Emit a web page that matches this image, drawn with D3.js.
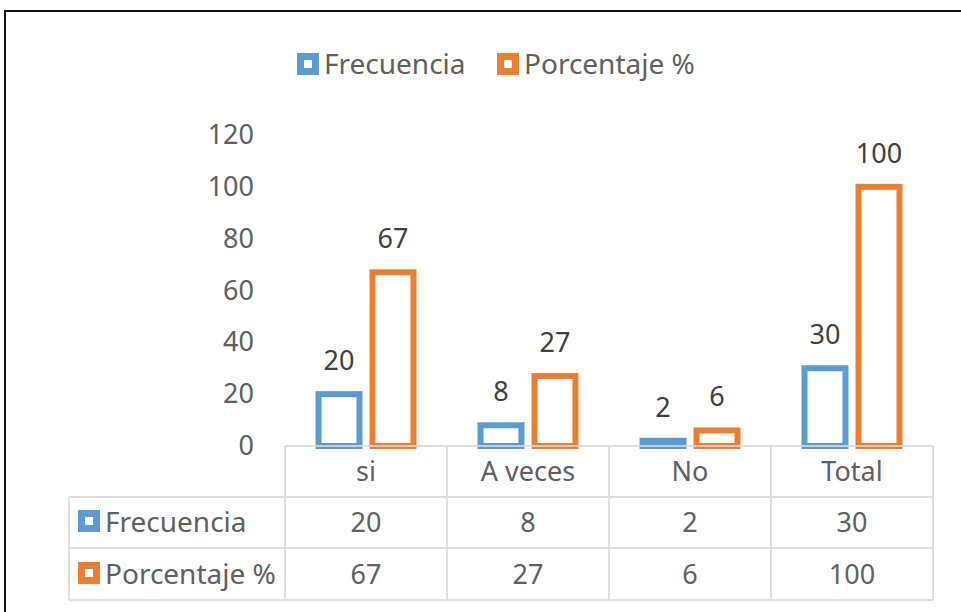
<!DOCTYPE html>
<html>
<head>
<meta charset="utf-8">
<script src="https://cdn.jsdelivr.net/npm/d3@7"></script>
<style>
  body { margin: 0; background: #fff; }
  svg text { font-family: "Noto Sans", sans-serif; fill: #606060; }
</style>
</head>
<body>
<svg id="chart" width="961" height="612"></svg>
<script>
const categories = ['si', 'A veces', 'No', 'Total'];
const seriesNames = ['Frecuencia', 'Porcentaje %'];
const frecuencia = [20, 8, 2, 30];
const porcentaje = [67, 27, 6, 100];
const yTicks = [0, 20, 40, 60, 80, 100, 120];

const colors = d3.scaleOrdinal()
	.domain(seriesNames)
	.range(['#5B9BD5', '#ED7D31']);

const svg = d3.select('#chart');

// outer frame (cut off at right/bottom like the screenshot)
svg.append('rect')
	.attr('x', 5).attr('y', 11)
	.attr('width', 1000).attr('height', 700)
	.attr('fill', 'none')
	.attr('stroke', '#111')
	.attr('stroke-width', 2);

const x0 = d3.scaleBand()
	.domain(categories)
	.range([285, 933]);

const x1 = d3.scaleBand()
	.domain(seriesNames)
	.range([0, x0.bandwidth()])
	.paddingInner(0.13)
	.paddingOuter(0.565);

const y = d3.scaleLinear()
	.domain([0, 120])
	.range([446, 135]);

// y axis labels only
const yAxis = svg.append('g')
	.attr('transform', 'translate(254,0)')
	.call(d3.axisLeft(y).tickValues(yTicks).tickSize(0).tickPadding(0));
yAxis.select('.domain').remove();
yAxis.attr('font-family', null).attr('font-size', null);
yAxis.selectAll('text')
	.attr('font-size', 27)
	.attr('fill', null);

const rows = categories.map(function (c, i) {
	return { cat: c, values: [frecuencia[i], porcentaje[i]] };
});

const groups = svg.append('g').selectAll('g')
	.data(rows)
	.join('g')
	.attr('transform', d => 'translate(' + x0(d.cat) + ',0)');

const bars = groups.selectAll('g')
	.data(d => d.values.map((v, j) => ({ name: seriesNames[j], value: v })))
	.join('g');

bars.append('rect')
	.attr('x', d => x1(d.name) + 3)
	.attr('width', x1.bandwidth() - 6)
	.attr('y', d => y(d.value))
	.attr('height', d => y(0) - y(d.value))
	.attr('fill', '#fff')
	.attr('stroke', d => colors(d.name))
	.attr('stroke-width', 6);

bars.append('text')
	.attr('x', d => x1(d.name) + x1.bandwidth() / 2)
	.attr('y', d => y(d.value) - 24)
	.attr('text-anchor', 'middle')
	.attr('font-size', 27)
	.style('fill', '#404040')
	.text(d => d.value);

// data table
const grid = svg.append('g')
	.attr('stroke', '#d9d9d9')
	.attr('stroke-width', 2)
	.attr('opacity', 0.85);
const rowY = [446, 497, 548, 600];
grid.append('line').attr('x1', 285).attr('x2', 933).attr('y1', rowY[0]).attr('y2', rowY[0]);
rowY.slice(1).forEach(function (ry) {
	grid.append('line').attr('x1', 69).attr('x2', 933).attr('y1', ry).attr('y2', ry);
});
grid.append('line').attr('x1', 69).attr('x2', 69).attr('y1', rowY[1]).attr('y2', rowY[3]);
categories.forEach(function (c) {
	grid.append('line').attr('x1', x0(c)).attr('x2', x0(c)).attr('y1', rowY[0]).attr('y2', rowY[3]);
});
grid.append('line').attr('x1', 933).attr('x2', 933).attr('y1', rowY[0]).attr('y2', rowY[3]);

svg.append('g').selectAll('text')
	.data(categories)
	.join('text')
	.attr('x', d => x0(d) + x0.bandwidth() / 2)
	.attr('y', 481)
	.attr('text-anchor', 'middle')
	.attr('font-size', 27)
	.text(d => d);

const tableRows = [
	{ name: seriesNames[0], values: frecuencia, cy: 522 },
	{ name: seriesNames[1], values: porcentaje, cy: 574 }
];

tableRows.forEach(function (r) {
	const g = svg.append('g');
	g.append('rect')
		.attr('x', 81.5).attr('y', r.cy - 8.5)
		.attr('width', 15).attr('height', 15)
		.attr('fill', '#fff')
		.attr('stroke', colors(r.name))
		.attr('stroke-width', 7);
	g.append('text')
		.attr('x', 105).attr('y', r.cy + 10)
		.attr('font-size', 28)
		.text(r.name);
	g.selectAll('text.val')
		.data(r.values)
		.join('text')
		.attr('class', 'val')
		.attr('x', (d, i) => x0(categories[i]) + x0.bandwidth() / 2)
		.attr('y', r.cy + 10)
		.attr('text-anchor', 'middle')
		.attr('font-size', 27)
		.text(d => d);
});

// legend
const legendX = [297, 497];
const legend = svg.append('g').selectAll('g')
	.data(seriesNames)
	.join('g')
	.attr('transform', (d, i) => 'translate(' + legendX[i] + ',64)');
legend.append('rect')
	.attr('x', 3.5).attr('y', -7.5)
	.attr('width', 15).attr('height', 15)
	.attr('fill', '#fff')
	.attr('stroke', d => colors(d))
	.attr('stroke-width', 7);
legend.append('text')
	.attr('x', 27).attr('y', 10)
	.attr('font-size', 28)
	.text(d => d);
</script>
</body>
</html>
